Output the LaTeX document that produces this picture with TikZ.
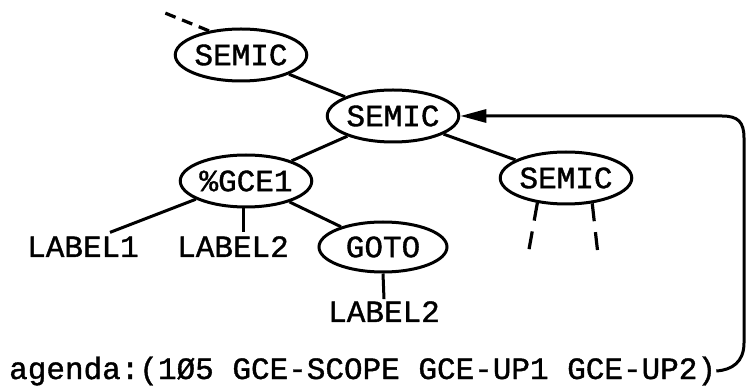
\documentclass[tikz,border=0pt]{standalone}
\usepackage{fontspec}
\setmonofont[FakeBold=1.2]{Liberation Mono}
\usetikzlibrary{shapes.geometric,arrows.meta}
\begin{document}
\begin{tikzpicture}[x=1pt,y=-1pt,
  every node/.style={font=\fontsize{31}{33}\selectfont\ttfamily},
  oval/.style={draw,ellipse,line width=3pt,minimum width=128pt,minimum height=52pt,inner sep=0pt},
  lab/.style={inner sep=0pt,anchor=base},
  edge/.style={line width=3pt},
  dashline/.style={line width=3.2pt,dash pattern=on 18pt off 11pt},
  shortdash/.style={line width=3.2pt,dash pattern=on 11pt off 7pt}]
\useasboundingbox (0,0) rectangle (747,387);
\node[oval] (top) at (241,55) {SEMIC};
\node[oval] (mid) at (393,116) {SEMIC};
\node[oval] (gce) at (246,181) {\%GCE1};
\node[oval] (rsem) at (566,178) {SEMIC};
\node[oval,minimum height=50pt] (goto) at (383,247) {GOTO};
\node[lab] (l1) at (83,257) {LABEL1};
\node[lab] (l2) at (233,257) {LABEL2};
\node[lab] (l3) at (384,322) {LABEL2};
\node[lab,anchor=base west] (agenda) at (9,379) {agenda:(1Ø5 GCE-SCOPE GCE-UP1 GCE-UP2)};
\coordinate (topdash) at (165,13);
\coordinate (rd1) at (528,255);
\coordinate (rd2) at (598,255);
\draw[shortdash] (top.143) -- (topdash);
\draw[edge] (top) -- (mid);
\draw[edge] (mid) -- (gce);
\draw[edge] (mid) -- (rsem);
\draw[edge] (gce.200) -- ([xshift=27pt,yshift=4pt]l1.north);
\draw[edge] (gce.south) ++(-3pt,0) -- ([xshift=10pt,yshift=4pt]l2.north);
\draw[edge] (gce) -- (goto);
\draw[edge] (goto.south) -- ([yshift=2pt]l3.north);
\draw[dashline] (rsem.221) -- (rd1);
\draw[dashline] (rsem.316) -- (rd2);
\draw[line width=3pt,-{Triangle[length=26pt,width=13pt]}]
  (agenda.east) .. controls (732,370) and (744,362) .. (744,343)
  -- (744,138) .. controls (744,122) and (738,116) .. (722,116) -- (mid.east);
\end{tikzpicture}
\end{document}
